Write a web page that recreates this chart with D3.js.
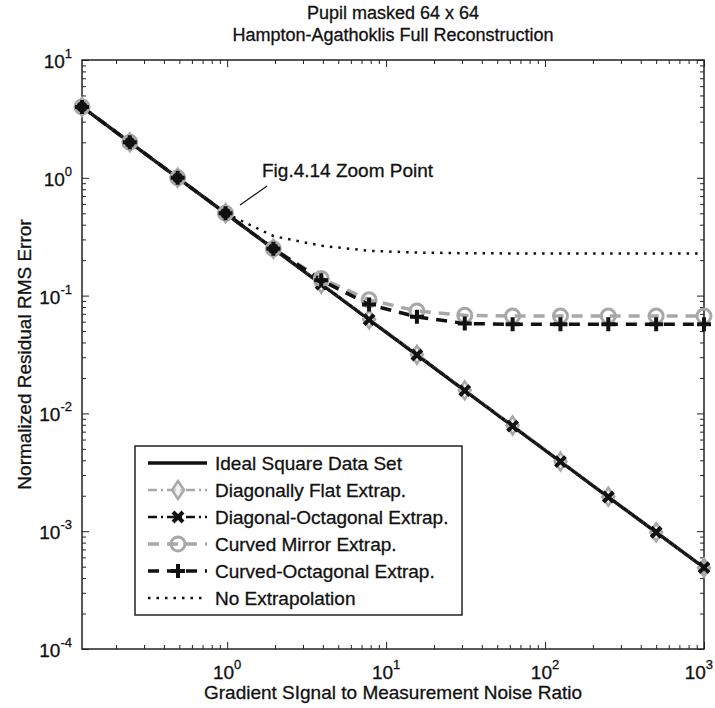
<!DOCTYPE html>
<html>
<head>
<meta charset="utf-8">
<script src="https://cdn.jsdelivr.net/npm/d3@7"></script>
<style>
  body { margin: 0; background: #fff; }
  text { font-family: "Liberation Sans", Arial, sans-serif; fill: #111; stroke: #111; stroke-width: 0.3; }
</style>
</head>
<body>
<div id="chart"></div>
<script>
// Data
const ratio = [0.1221, 0.2441, 0.4883, 0.9766, 1.953, 3.906, 7.813, 15.63, 31.25, 62.5, 125, 250, 500, 1000];
const idealSquare   = [4.0, 2.0, 1.0, 0.5, 0.25, 0.125, 0.0625, 0.0313, 0.0156, 0.0078, 0.0039, 0.00195, 0.00098, 0.00049];
const diagFlat      = [4.0, 2.0, 1.0, 0.5, 0.25, 0.126, 0.063, 0.0315, 0.0157, 0.0079, 0.0039, 0.00196, 0.00098, 0.00049];
const diagOct       = [4.0, 2.0, 1.0, 0.5, 0.25, 0.125, 0.0625, 0.0313, 0.0156, 0.0078, 0.0039, 0.00195, 0.00098, 0.00049];
const curvedMirror  = [4.0, 2.0, 1.0, 0.5, 0.25, 0.14, 0.092, 0.074, 0.068, 0.067, 0.067, 0.067, 0.067, 0.067];
const curvedOct     = [4.0, 2.0, 1.0, 0.5, 0.25, 0.135, 0.084, 0.066, 0.058, 0.057, 0.057, 0.057, 0.057, 0.057];
// no-extrapolation curve, drawn from ratio ~1 onward
const noExtrapRatio = [0.9766, 1.953, 3.906, 7.813, 15.63, 31.25, 62.5, 125, 250, 500, 1000];
const noExtrap      = [0.5, 0.32, 0.265, 0.24, 0.232, 0.229, 0.228, 0.228, 0.228, 0.228, 0.228];

const legendLabels = ["Ideal Square Data Set", "Diagonally Flat Extrap.", "Diagonal-Octagonal Extrap.",
                      "Curved Mirror Extrap.", "Curved-Octagonal Extrap.", "No Extrapolation"];
const xMajor = [1, 10, 100, 1000];
const yMajor = [1e-4, 1e-3, 1e-2, 1e-1, 1, 10];

const W = 715, H = 708;
const margin = {top: 60, right: 11, bottom: 59, left: 82};
const width = W - margin.left - margin.right,
      height = H - margin.top - margin.bottom;

const svg = d3.select("#chart").append("svg")
    .attr("width", W).attr("height", H);

const g = svg.append("g").attr("transform", `translate(${margin.left},${margin.top})`);

const x = d3.scaleLog().domain([0.1221, 1000]).range([0, width]);
const y = d3.scaleLog().domain([1e-4, 10]).range([height, 0]);

// minor ticks 2..9 per decade
const xMinor = [], yMinor = [];
for (let e = -1; e <= 2; e++) for (let k = 2; k <= 9; k++) {
  const v = k * 10 ** e;
  if (v > 0.1221 && v < 1000) xMinor.push(v);
}
for (let e = -4; e <= 0; e++) for (let k = 2; k <= 9; k++) yMinor.push(k * 10 ** e);

function drawAxis(axisFn, scale, vals, size, transform) {
  g.append("g").attr("transform", transform)
    .call(axisFn(scale).tickValues(vals).tickSize(size).tickFormat(""))
    .call(s => s.select(".domain").remove())
    .call(s => s.selectAll("line").attr("stroke", "#222").attr("stroke-width", 1));
}
drawAxis(d3.axisBottom, x, xMajor, -7, `translate(0,${height})`);
drawAxis(d3.axisBottom, x, xMinor, -4, `translate(0,${height})`);
drawAxis(d3.axisTop, x, xMajor, -7, `translate(0,0)`);
drawAxis(d3.axisTop, x, xMinor, -4, `translate(0,0)`);
drawAxis(d3.axisLeft, y, yMajor, -7, `translate(0,0)`);
drawAxis(d3.axisLeft, y, yMinor, -4, `translate(0,0)`);
drawAxis(d3.axisRight, y, yMajor, -7, `translate(${width},0)`);
drawAxis(d3.axisRight, y, yMinor, -4, `translate(${width},0)`);

g.append("rect").attr("width", width).attr("height", height)
  .attr("fill", "none").attr("stroke", "#222").attr("stroke-width", 1.5);

// tick labels with superscripts
const xl = g.append("g");
xMajor.forEach(v => {
  const t = xl.append("text").attr("x", x(v)).attr("y", height + 30)
    .attr("text-anchor", "middle").attr("font-size", 19);
  t.append("tspan").text("10");
  t.append("tspan").attr("dy", -10).attr("font-size", 13).text(Math.round(Math.log10(v)));
  // keep the last label inside the page
  const bb = t.node().getBBox();
  const over = margin.left + bb.x + bb.width - (W - 2);
  if (over > 0) t.attr("x", x(v) - over);
});
const yl = g.append("g");
yMajor.forEach(v => {
  const t = yl.append("text").attr("x", -10).attr("y", y(v) + 8)
    .attr("text-anchor", "end").attr("font-size", 19);
  t.append("tspan").text("10");
  t.append("tspan").attr("dy", -10).attr("font-size", 13).text(Math.round(Math.log10(v)));
});

// series
const lineOf = (xs, vals) => d3.line().x((d, i) => x(xs[i])).y(d => y(d))(vals);
const plot = g.append("g");

plot.append("path").attr("d", lineOf(ratio, idealSquare))
  .attr("fill", "none").attr("stroke", "#111").attr("stroke-width", 3.5);

plot.append("path").attr("d", lineOf(ratio, diagFlat))
  .attr("fill", "none").attr("stroke", "#a8a8a8").attr("stroke-width", 2.5)
  .attr("stroke-dasharray", "9,4,2,4");

plot.append("path").attr("d", lineOf(ratio, diagOct))
  .attr("fill", "none").attr("stroke", "#111").attr("stroke-width", 2.5)
  .attr("stroke-dasharray", "9,4,2,4");

plot.append("path").attr("d", lineOf(ratio, curvedMirror))
  .attr("fill", "none").attr("stroke", "#a8a8a8").attr("stroke-width", 3.5)
  .attr("stroke-dasharray", "11,8");

plot.append("path").attr("d", lineOf(ratio, curvedOct))
  .attr("fill", "none").attr("stroke", "#111").attr("stroke-width", 3.5)
  .attr("stroke-dasharray", "11,8");

plot.append("path").attr("d", lineOf(noExtrapRatio, noExtrap))
  .attr("fill", "none").attr("stroke", "#111").attr("stroke-width", 2.5)
  .attr("stroke-dasharray", "2.5,6");

// marker shapes
function diamond(sel) {
  sel.append("path").attr("d", "M0,-9L6,0L0,9L-6,0Z")
    .attr("fill", "#e6e6e6").attr("fill-opacity", 0.6).attr("stroke", "#a8a8a8").attr("stroke-width", 2.5);
}
function cross(sel) {
  sel.append("path").attr("d", "M-5,-5L5,5M-5,5L5,-5")
    .attr("stroke", "#111").attr("stroke-width", 4);
}
function circle(sel) {
  sel.append("circle").attr("r", 7)
    .attr("fill", "none").attr("stroke", "#a8a8a8").attr("stroke-width", 3);
}
function plus(sel) {
  sel.append("path").attr("d", "M-7,0L7,0M0,-7L0,7")
    .attr("stroke", "#111").attr("stroke-width", 4);
}
function markers(vals, shape) {
  plot.append("g").selectAll("g").data(vals).join("g")
    .attr("transform", (d, i) => `translate(${x(ratio[i])},${y(d)})`)
    .call(shape);
}
markers(diagFlat, diamond);
markers(diagOct, cross);
markers(curvedMirror, circle);
markers(curvedOct, plus);

// annotation
g.append("text").attr("x", 262 - margin.left).attr("y", 177 - margin.top)
  .attr("font-size", 19).text("Fig.4.14 Zoom Point");
g.append("line")
  .attr("x1", 267 - margin.left).attr("y1", 186 - margin.top)
  .attr("x2", 240 - margin.left).attr("y2", 205 - margin.top)
  .attr("stroke", "#111").attr("stroke-width", 1.2);

// legend
const lg = svg.append("g").attr("transform", "translate(135,446)");
lg.append("rect").attr("width", 327).attr("height", 169)
  .attr("fill", "#fff").attr("stroke", "#222").attr("stroke-width", 1.5);
const rowY = i => 17 + i * 27;
const styles = [
  {stroke: "#111", w: 3.5, dash: null, mark: null},
  {stroke: "#a8a8a8", w: 2.5, dash: "9,4,2,4", mark: diamond},
  {stroke: "#111", w: 2.5, dash: "9,4,2,4", mark: cross},
  {stroke: "#a8a8a8", w: 3.5, dash: "11,8", mark: circle},
  {stroke: "#111", w: 3.5, dash: "11,8", mark: plus},
  {stroke: "#111", w: 2.5, dash: "2.5,6", mark: null}
];
legendLabels.forEach((lab, i) => {
  const s = styles[i];
  const row = lg.append("g").attr("transform", `translate(0,${rowY(i)})`);
  row.append("line").attr("x1", 13).attr("x2", 72)
    .attr("stroke", s.stroke).attr("stroke-width", s.w)
    .attr("stroke-dasharray", s.dash);
  if (s.mark) row.append("g").attr("transform", "translate(43,0)").call(s.mark);
  row.append("text").attr("x", 80).attr("y", 7).attr("font-size", 19).text(lab);
});

// titles
svg.append("text").attr("x", 393).attr("y", 19).attr("text-anchor", "middle")
  .attr("font-size", 18).text("Pupil masked 64 x 64");
svg.append("text").attr("x", 393).attr("y", 41).attr("text-anchor", "middle")
  .attr("font-size", 18).text("Hampton-Agathoklis Full Reconstruction");
svg.append("text").attr("x", margin.left + width / 2).attr("y", 699).attr("text-anchor", "middle")
  .attr("font-size", 19).text("Gradient SIgnal to Measurement Noise Ratio");
svg.append("text").attr("transform", `translate(31,${margin.top + height / 2}) rotate(-90)`)
  .attr("text-anchor", "middle").attr("font-size", 19).text("Normalized Residual RMS Error");
</script>
</body>
</html>
